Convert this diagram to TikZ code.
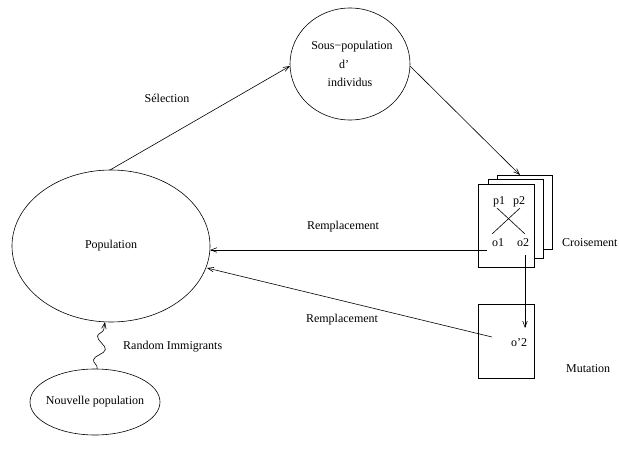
\documentclass[tikz,border=0pt]{standalone}
\usepackage{fontspec}
\setmainfont{Liberation Serif}
\usetikzlibrary{arrows.meta,decorations.pathmorphing}
\begin{document}
\begin{tikzpicture}[x=1pt,y=-1pt,
  every node/.style={font=\fontsize{12}{14}\selectfont,inner sep=0pt},
  line/.style={draw=black,line width=0.6pt},
  arr/.style={line,-{Straight Barb[length=6pt,width=4.5pt]}},
  card/.style={line,fill=white}]
\useasboundingbox (0,0) rectangle (619,460);

% population pools
\draw[line] (111,246) ellipse [x radius=99, y radius=76];
\node (pop) at (111,246) {Population};
\coordinate (popTop) at (110,170);
\coordinate (popRight) at (210,250);
\coordinate (popRightLow) at (207,268);
\coordinate (popBottom) at (105,322);

\draw[line] (350,64) ellipse [x radius=60, y radius=56];
\node (s1) at (352,47) {Sous−population};
\node (s2) at (344,64) {d'};
\node (s3) at (350,82) {individus};
\coordinate (subLeft) at (290,66);
\coordinate (subRight) at (410,66);

\draw[line] (95,402) ellipse [x radius=65, y radius=33];
\node (new) at (95,402) {Nouvelle population};
\coordinate (newTop) at (97,369);

% crossover cards
\draw[card] (497,175) rectangle (552,249);
\draw[card] (488,179) rectangle (543,258);
\draw[card] (478,184) rectangle (534,267);
\coordinate (cardTop) at (520,175);
\node (p1) at (499,202) {p1};
\node (p2) at (519,202) {p2};
\node (o1) at (498,243) {o1};
\node (o2) at (523,243) {o2};
\draw[line] (497,208) -- (525,234);
\draw[line] (492,234) -- (520,208);
\node[anchor=west] (cross) at (562,243) {Croisement};
\coordinate (o1L) at (487,250);
\coordinate (o2B) at (525,255);

% mutation card
\draw[line] (478,304) rectangle (534,378);
\node (om) at (519,343) {o'2};
\node[anchor=west] (mut) at (566,369) {Mutation};
\coordinate (omTop) at (525,328);
\coordinate (omL) at (492,337);

% connectors
\draw[arr] (popTop) -- (subLeft);
\node (sel) at (167,98) {Sélection};
\draw[arr] (subRight) -- (cardTop);
\draw[arr] (o1L) -- (popRight);
\node (r1) at (343,227) {Remplacement};
\draw[arr] (o2B) -- (omTop);
\draw[arr] (omL) -- (popRightLow);
\node (r2) at (342,320) {Remplacement};
\draw[arr,decorate,decoration={snake,amplitude=5pt,segment length=24pt,pre length=1pt,post length=5pt}] (newTop) -- (popBottom);
\node[anchor=west] (ri) at (123,347) {Random Immigrants};
\end{tikzpicture}
\end{document}
